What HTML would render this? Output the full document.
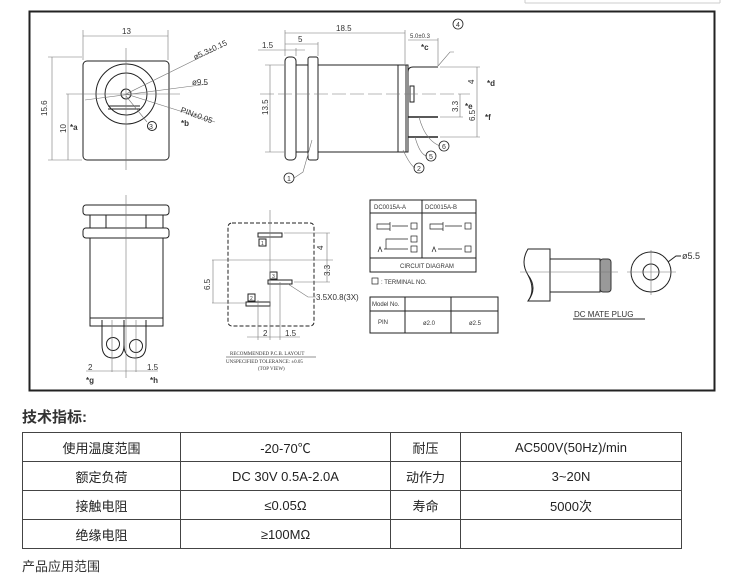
<!DOCTYPE html>
<html><head><meta charset="utf-8"><style>
body{margin:0;background:#fff;width:740px;height:563px;overflow:hidden;position:relative;font-family:"Liberation Sans","Noto Sans CJK SC",sans-serif}
svg{position:absolute;left:0;top:0}
.t{position:absolute;left:22px;top:406px;font-size:15px;font-weight:bold;color:#333}
.b{position:absolute;left:22px;top:556px;font-size:13px;color:#333}
table{position:absolute;left:22px;top:432px;border-collapse:collapse;width:660px;font-size:13px;color:#222}
td{border:1.5px solid #444;height:28px;text-align:center;padding:0}
</style></head><body>
<svg width="740" height="400" viewBox="0 0 740 400" font-family="Liberation Sans,sans-serif" fill="none" stroke="#222" stroke-width="1">
<g stroke="#ccc"><line x1="525" y1="3" x2="720" y2="3"/><line x1="525" y1="0" x2="525" y2="3"/><line x1="720" y1="0" x2="720" y2="3"/></g>
<rect x="29.5" y="11.5" width="685" height="379" stroke-width="2"/>
<rect x="83" y="61" width="86" height="99" rx="4"/>
<circle cx="126" cy="94" r="30"/><circle cx="126" cy="94" r="21"/><circle cx="126" cy="94" r="5"/>
<line x1="108" y1="106" x2="140" y2="106"/><line x1="108" y1="109" x2="140" y2="109"/>
<g stroke="#777" stroke-width="0.6"><line x1="126" y1="48" x2="126" y2="170"/><line x1="66" y1="94" x2="180" y2="94"/>
<line x1="83" y1="30" x2="83" y2="60"/><line x1="168" y1="30" x2="168" y2="60"/><line x1="83" y1="36" x2="168" y2="36"/>
<line x1="48" y1="57" x2="82" y2="57"/><line x1="48" y1="160" x2="82" y2="160"/><line x1="52" y1="57" x2="52" y2="160"/>
<line x1="68" y1="94" x2="68" y2="160"/>
<line x1="126" y1="94" x2="215" y2="50"/><line x1="85" y1="100" x2="208" y2="84"/><line x1="126" y1="94" x2="215" y2="122"/><line x1="126" y1="96" x2="147" y2="122"/></g>
<g fill="#333" stroke="none" font-size="8"><text x="122" y="34">13</text><text x="195" y="60" transform="rotate(-25 195 60)">ø5.3±0.15</text><text x="192" y="85">ø9.5</text><text x="180" y="112" transform="rotate(20 180 112)">PIN±0.05</text>
<text x="47" y="116" transform="rotate(-90 47 116)">15.6</text><text x="66" y="133" transform="rotate(-90 66 133)">10</text><text x="70" y="130" font-weight="bold">*a</text><text x="181" y="126" font-weight="bold">*b</text></g>
<circle cx="152" cy="126" r="4.5"/><text x="149" y="129" font-size="7" fill="#333" stroke="none">3</text>
<rect x="285" y="57" width="11" height="103" rx="4"/><rect x="308" y="57" width="10" height="103" rx="2"/>
<line x1="296" y1="65" x2="308" y2="65"/><line x1="296" y1="152" x2="308" y2="152"/>
<rect x="318" y="65" width="90" height="87"/><line x1="398" y1="65" x2="398" y2="152"/><line x1="406" y1="65" x2="406" y2="152"/>
<path d="M408 104 V72 Q408 67 413 67 H438"/><rect x="410" y="86" width="4" height="16"/>
<line x1="408" y1="117" x2="438" y2="117" stroke-width="1.5"/><line x1="408" y1="137" x2="438" y2="137" stroke-width="1.5"/>
<g stroke="#777" stroke-width="0.6"><line x1="260" y1="94" x2="470" y2="94" stroke-dasharray="14 4"/>
<line x1="285" y1="30" x2="285" y2="56"/><line x1="405" y1="30" x2="405" y2="64"/><line x1="285" y1="33" x2="405" y2="33"/><line x1="285" y1="44" x2="318" y2="44"/><line x1="318" y1="42" x2="318" y2="56"/><line x1="258" y1="50" x2="305" y2="50"/><line x1="296" y1="48" x2="296" y2="56"/>
<line x1="265" y1="65" x2="284" y2="65"/><line x1="265" y1="152" x2="284" y2="152"/><line x1="270" y1="65" x2="270" y2="152"/>
<line x1="408" y1="40" x2="438" y2="40"/><line x1="438" y1="38" x2="438" y2="66"/>
<line x1="440" y1="67" x2="480" y2="67"/><line x1="440" y1="137" x2="480" y2="137"/><line x1="440" y1="117" x2="463" y2="117"/><line x1="477" y1="67" x2="477" y2="137"/><line x1="460" y1="94" x2="460" y2="117"/>
<path d="M438 66 L450 52 L454 52"/><path d="M419 117 Q425 140 440 146"/><path d="M415 137 Q420 155 427 156"/><path d="M403 150 Q410 165 415 168"/><path d="M312 140 L303 172 L294 178"/></g>
<g fill="#333" stroke="none" font-size="8"><text x="336" y="31">18.5</text><text x="298" y="42">5</text><text x="262" y="48">1.5</text><text x="268" y="115" transform="rotate(-90 268 115)">13.5</text>
<text x="410" y="38" font-size="6">5.0±0.3</text><text x="421" y="50" font-weight="bold">*c</text>
<text x="474" y="84" transform="rotate(-90 474 84)">4</text><text x="487" y="86" font-weight="bold">*d</text>
<text x="458" y="112" transform="rotate(-90 458 112)">3.3</text><text x="465" y="109" font-weight="bold">*e</text>
<text x="475" y="121" transform="rotate(-90 475 121)">6.5</text><text x="485" y="120" font-weight="bold">*f</text></g>
<g stroke-width="0.8"><circle cx="458" cy="24" r="5"/><circle cx="444" cy="146" r="5"/><circle cx="431" cy="156" r="5"/><circle cx="419" cy="168" r="5"/><circle cx="289" cy="178" r="5"/></g>
<g fill="#333" stroke="none" font-size="7"><text x="456" y="27">4</text><text x="442" y="149">6</text><text x="429" y="159">5</text><text x="417" y="171">2</text><text x="287" y="181">1</text></g>
<rect x="83" y="205" width="86" height="10" rx="3"/><rect x="90" y="215" width="73" height="13"/><line x1="106" y1="215" x2="106" y2="228"/><line x1="146" y1="215" x2="146" y2="228"/>
<rect x="83" y="228" width="86" height="10" rx="3"/><rect x="90" y="238" width="73" height="80"/><rect x="90" y="318" width="73" height="8"/>
<path d="M102 320 V345 Q102 358 113 358 Q124 358 124 345 V320"/><path d="M124 320 V345 Q124 358 135 358 Q146 358 146 345 V320"/>
<circle cx="113" cy="344" r="6.5"/><circle cx="136" cy="346" r="6.5"/>
<g stroke="#777" stroke-width="0.6"><line x1="126" y1="195" x2="126" y2="378"/><line x1="112" y1="320" x2="112" y2="372"/><line x1="136" y1="320" x2="136" y2="372"/><line x1="86" y1="371" x2="158" y2="371"/></g>
<g fill="#333" stroke="none" font-size="8"><text x="88" y="370">2</text><text x="147" y="370">1.5</text><text x="86" y="383" font-weight="bold">*g</text><text x="150" y="383" font-weight="bold">*h</text></g>
<rect x="228" y="223" width="86" height="103" rx="4" stroke-dasharray="4 2"/>
<rect x="258" y="233" width="24" height="4"/><rect x="259" y="239" width="7" height="7"/>
<rect x="268" y="280" width="24" height="4"/><rect x="270" y="272" width="7" height="7"/>
<rect x="246" y="302" width="24" height="4"/><rect x="248" y="294" width="7" height="7"/>
<g stroke="#777" stroke-width="0.6"><line x1="212" y1="260" x2="333" y2="260"/><line x1="270" y1="210" x2="270" y2="340"/><line x1="258" y1="300" x2="258" y2="340"/><line x1="280" y1="282" x2="280" y2="340"/>
<line x1="284" y1="233" x2="330" y2="233"/><line x1="294" y1="282" x2="330" y2="282"/><line x1="327" y1="233" x2="327" y2="282"/><line x1="212" y1="303" x2="246" y2="303"/><line x1="213" y1="260" x2="213" y2="303"/>
<line x1="247" y1="337" x2="300" y2="337"/><path d="M288 284 L308 297 L316 297"/></g>
<g fill="#333" stroke="none" font-size="8"><text x="323" y="250" transform="rotate(-90 323 250)">4</text><text x="330" y="276" transform="rotate(-90 330 276)">3.3</text><text x="210" y="290" transform="rotate(-90 210 290)">6.5</text><text x="316" y="300">3.5X0.8(3X)</text><text x="263" y="336">2</text><text x="285" y="336">1.5</text>
<g font-size="5" font-family="Liberation Serif,serif"><text x="230" y="355">RECOMMENDED P.C.B. LAYOUT</text><text x="226" y="363">UNSPECIFIED TOLERANCE: ±0.05</text><text x="258" y="370">(TOP VIEW)</text></g>
<text x="261" y="245" font-size="5">1</text><text x="272" y="278" font-size="5">3</text><text x="250" y="300" font-size="5">2</text></g>
<line x1="226" y1="357" x2="316" y2="357" stroke-width="0.5"/>
<rect x="370" y="200" width="106" height="72"/><line x1="370" y1="213" x2="476" y2="213"/><line x1="370" y1="258" x2="476" y2="258"/><line x1="422" y1="200" x2="422" y2="258"/>
<g stroke-width="0.7"><rect x="411" y="223" width="6" height="6"/><rect x="411" y="236" width="6" height="6"/><rect x="411" y="246" width="6" height="6"/><rect x="465" y="223" width="6" height="6"/><rect x="465" y="246" width="6" height="6"/>
<path d="M377 224 H390 V229 H377 Z M390 222 V231 M392 226 H408"/><path d="M430 224 H443 V229 H430 Z M443 222 V231 M445 226 H462"/>
<path d="M378 252 L380 247 L382 252 M384 249 H408 M386 249 V239 H408"/><path d="M432 252 L434 247 L436 252 M438 249 H462"/>
<rect x="372" y="278" width="6" height="6"/></g>
<g fill="#333" stroke="none" font-size="6"><text x="374" y="209">DC0015A-A</text><text x="425" y="209">DC0015A-B</text><text x="400" y="268">CIRCUIT DIAGRAM</text><text x="381" y="284">: TERMINAL NO.</text></g>
<rect x="370" y="297" width="128" height="36"/><line x1="370" y1="311" x2="498" y2="311"/><line x1="405" y1="297" x2="405" y2="333"/><line x1="451" y1="297" x2="451" y2="333"/>
<g fill="#333" stroke="none" font-size="6"><text x="372" y="306">Model No.</text><text x="378" y="324">PIN</text><text x="423" y="325">ø2.0</text><text x="469" y="325">ø2.5</text></g>
<path d="M528 249 H550 V301 H528 Q538 288 528 275 Q520 262 528 249 Z"/><path d="M528 275 Q536 290 528 301"/>
<rect x="550" y="259" width="50" height="33"/><rect x="600" y="259" width="11" height="33" rx="3" fill="#999" stroke="#333"/>
<circle cx="651" cy="272" r="20"/><circle cx="651" cy="272" r="8"/>
<g stroke="#777" stroke-width="0.6"><line x1="520" y1="272" x2="618" y2="272"/><line x1="627" y1="272" x2="676" y2="272"/><line x1="651" y1="250" x2="651" y2="295"/></g>
<path d="M668 262 L676 256 L681 256" stroke-width="1"/>
<g fill="#333" stroke="none"><text x="682" y="259" font-size="9">ø5.5</text><text x="574" y="317" font-size="8">DC MATE PLUG</text></g>
<line x1="573" y1="319" x2="645" y2="319"/>
</svg>
<div class="t">技术指标:</div>
<table><colgroup><col style="width:158px"><col style="width:210px"><col style="width:70px"><col></colgroup>
<tr><td>使用温度范围</td><td>-20-70℃</td><td>耐压</td><td>AC500V(50Hz)/min</td></tr>
<tr><td>额定负荷</td><td>DC 30V 0.5A-2.0A</td><td>动作力</td><td>3~20N</td></tr>
<tr><td>接触电阻</td><td>≤0.05Ω</td><td>寿命</td><td>5000次</td></tr>
<tr><td>绝缘电阻</td><td>≥100MΩ</td><td></td><td></td></tr>
</table>
<div class="b">产品应用范围</div>
</body></html>
